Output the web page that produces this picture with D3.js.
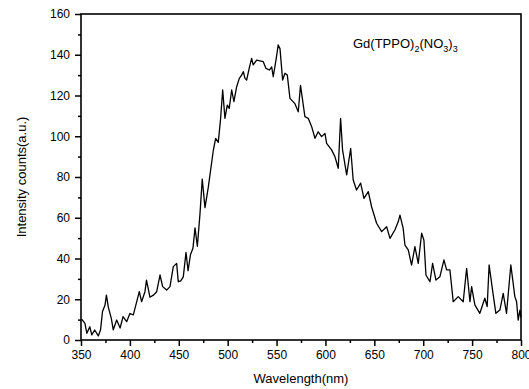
<!DOCTYPE html>
<html>
<head>
<meta charset="utf-8">
<script src="https://cdn.jsdelivr.net/npm/d3@7"></script>
<style>
  body { margin: 0; background: #fff; }
  text { font-family: Arial, "Liberation Sans", sans-serif; fill: #000; }
</style>
</head>
<body>
<div id="chart"></div>
<script>
// spectrum
var wavelength = [350.7, 354, 356, 359, 361, 364, 367.7, 370, 372, 374.5, 376, 378, 381, 383, 386.5, 390,
    393, 396.7, 400, 403.5, 407, 409.6, 412, 415.4, 417, 420.5, 424, 427.4, 430.8, 433.5, 437.6, 441,
    444.4, 447.8, 449.5, 452, 454.6, 457.4, 459.5, 462, 464.5, 466.6, 469, 471.7, 474, 476.8, 480.2,
    483.6, 485.3, 487.7, 490.4, 492.8, 494.9, 497.2, 499.6, 501.6, 504.1, 506.4, 509.2, 511.9, 514.3,
    516, 517.7, 519.4, 522, 524.5, 526.1, 529.6, 536.4, 539.2, 542.6, 545, 546.6, 549.4, 551.7, 553.5,
    556.2, 558.6, 561, 563.7, 568.8, 572.2, 574.5,
    579, 582.4, 585.9, 589.3, 592.6, 596.1, 599.5, 601.2, 606.3, 609.7, 613.1, 615.5, 617.5,
    621.7, 625.8, 628.4, 631.8, 636, 639.4, 643.8, 647.2, 652.3, 657.5, 662.6, 666, 671, 674.4, 676.2,
    679.5, 681.3, 684.7, 688.1, 691.5, 694.9, 698.4, 700.7, 702.8, 706.9, 709.6, 713, 717, 721.2,
    723.9, 727.3, 730.7, 735.8, 740.9, 744.4, 747.8, 749.5, 752.8, 757.9, 763, 765.4, 767.4, 770.9,
    774.3, 778.4, 781.8, 785.2, 789.6, 792, 793.7, 795.5, 797.1, 798.9, 800];
var intensity = [10.2, 8.2, 3.3, 6.5, 2.5, 4.9, 2, 5, 14, 17, 22, 16, 10.6, 5, 9.8, 5.9,
    11.5, 9, 13, 12.3, 18.8, 23.7, 18.8, 23.7, 29.4, 21, 22, 23.7, 31.9, 26.2, 24.5, 26.2,
    36, 37.6, 28.6, 29, 31, 43, 34, 42, 45, 55, 46, 62, 79, 65, 75,
    87, 93, 99, 97, 108.8, 122.7, 108.8, 115.3, 113.7, 122.7, 117, 124.3, 128.4, 130,
    131.7, 128.4, 127.6, 133.3, 138.2, 135, 137.4, 136.6, 133.3, 132.5, 134, 129.2, 137.4, 144.8, 143,
    127.6, 130.9, 130, 118.6, 116, 112, 125,
    109.6, 108.8, 104.7, 99, 102.2, 99.8, 101.4, 96.5, 93.3, 90, 84.3, 108.8, 93.3,
    81, 94, 78.5, 73.6, 77, 69.5, 72.8, 65.4, 57.3, 53.2, 55.6, 49.9, 54, 58, 61.3,
    54.8, 46.6, 44.2, 36.8, 45.8, 37.6, 52.4, 49, 31.9, 28.6, 37.6, 29.4, 31, 39.3,
    34.4, 34.4, 18.8, 21.3, 18.8, 35.2, 18.8, 26.2, 17.2, 13.1, 20.5, 16.4, 36.8, 24.5,
    13.1, 14.7, 22.9, 13.1, 36.8, 27.8, 21.3, 18.8, 9.8, 14.7, 11];

var xTicks = [350, 400, 450, 500, 550, 600, 650, 700, 750, 800];
var xMinor = [375, 425, 475, 525, 575, 625, 675, 725, 775];
var yTicks = [0, 20, 40, 60, 80, 100, 120, 140, 160];
var yMinor = [10, 30, 50, 70, 90, 110, 130, 150];

var width = 529, height = 389;
var margin = {top: 14, right: 8, bottom: 49, left: 81};
var plotW = width - margin.left - margin.right;
var plotH = height - margin.top - margin.bottom;

var svg = d3.select("#chart").append("svg")
    .attr("width", width)
    .attr("height", height);

var g = svg.append("g")
    .attr("transform", "translate(" + margin.left + "," + margin.top + ")");

var x = d3.scaleLinear().domain([350, 800]).range([0, plotW]);
var y = d3.scaleLinear().domain([0, 160]).range([plotH, 0]);

//spectrum line
var points = wavelength.map(function(w, i) { return [w, intensity[i]]; });
g.append("path")
    .datum(points)
    .attr("fill", "none")
    .attr("stroke", "#000")
    .attr("stroke-width", 1.3)
    .attr("stroke-linejoin", "round")
    .attr("d", d3.line()
        .x(function(d) { return x(d[0]); })
        .y(function(d) { return y(d[1]); }));

//frame
g.append("rect")
    .attr("width", plotW)
    .attr("height", plotH)
    .attr("fill", "none")
    .attr("stroke", "#000")
    .attr("stroke-width", 1.6);

//axes with minor ticks
g.append("g")
    .attr("transform", "translate(0," + plotH + ")")
    .call(d3.axisBottom(x).tickValues(xTicks).tickSize(6).tickPadding(4).tickFormat(d3.format("d")));
g.append("g")
    .attr("transform", "translate(0," + plotH + ")")
    .call(d3.axisBottom(x).tickValues(xMinor).tickSize(3).tickFormat(""));
g.append("g")
    .call(d3.axisLeft(y).tickValues(yTicks).tickSize(6).tickPadding(5).tickFormat(d3.format("d")));
g.append("g")
    .call(d3.axisLeft(y).tickValues(yMinor).tickSize(3).tickFormat(""));

g.selectAll(".domain").remove();
g.selectAll(".tick line").attr("stroke", "#000").attr("stroke-width", 1.5);
g.selectAll(".tick text")
    .style("font-size", "12px")
    .style("font-family", "Arial, 'Liberation Sans', sans-serif")
    .attr("fill", "#000");

//axis titles
svg.append("text")
    .attr("x", margin.left + plotW / 2)
    .attr("y", height - 6)
    .attr("text-anchor", "middle")
    .style("font-size", "13px")
    .text("Wavelength(nm)");

svg.append("text")
    .attr("transform", "translate(26," + (margin.top + plotH / 2) + ") rotate(-90)")
    .attr("text-anchor", "middle")
    .style("font-size", "13px")
    .text("Intensity counts(a.u.)");

//compound label
var label = svg.append("text")
    .attr("x", 353)
    .attr("y", 48)
    .style("font-size", "13px");
label.append("tspan").text("Gd(TPPO)");
label.append("tspan").attr("dy", 4).style("font-size", "9px").text("2");
label.append("tspan").attr("dy", -4).text("(NO");
label.append("tspan").attr("dy", 4).style("font-size", "9px").text("3");
label.append("tspan").attr("dy", -4).text(")");
label.append("tspan").attr("dy", 4).style("font-size", "9px").text("3");
</script>
</body>
</html>
